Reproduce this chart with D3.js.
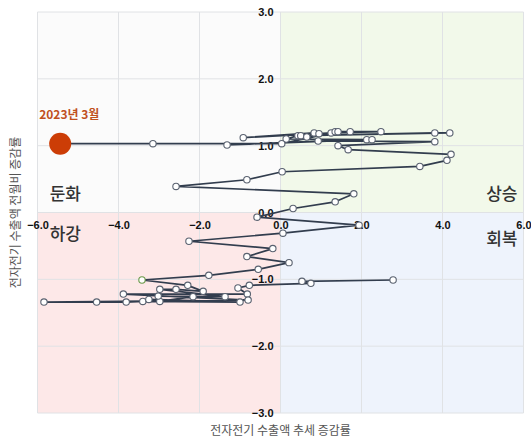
<!DOCTYPE html>
<html><head><meta charset="utf-8">
<script src="https://cdn.jsdelivr.net/npm/d3@7"></script>
<style>body{margin:0;background:#fff}svg{display:block}</style>
</head><body><div id="chart"></div>
<script>
// trend growth rate (x) and month-on-month change (y), oldest -> newest
const trend = [2.78,0.53,0.75,-0.77,-1.05,-0.82,-3.88,-0.80,-5.84,-4.54,-3.81,-3.40,-1.00,-3.25,-2.98,-2.16,-3.02,-1.37,-2.98,-2.58,-1.91,-2.29,-3.42,
  -1.77,-0.55,0.21,-0.83,-0.19,-2.26,0.06,1.94,-0.58,0.31,1.35,1.81,-2.58,-0.83,0.04,3.44,4.11,4.21,
  1.67,1.42,3.81,0.93,-1.32,2.13,2.26,0.14,0.43,3.81,4.18,0.50,0.65,0.83,-0.92,0.95,1.25,2.48,1.72,1.35,1.42,0.03,-3.15,-5.44];
const mom = [-1.01,-1.03,-1.06,-1.09,-1.13,-1.22,-1.22,-1.31,-1.34,-1.34,-1.34,-1.33,-1.34,-1.30,-1.33,-1.26,-1.25,-1.26,-1.15,-1.15,-1.18,-1.09,-1.01,
  -0.94,-0.85,-0.75,-0.66,-0.54,-0.43,-0.31,-0.19,-0.07,0.06,0.16,0.28,0.39,0.49,0.61,0.69,0.78,0.87,
  0.94,1.00,1.06,1.07,1.01,1.09,1.09,1.10,1.15,1.19,1.19,1.15,1.13,1.19,1.12,1.18,1.19,1.21,1.21,1.21,1.21,1.03,1.03,1.03];
const greenIndex = 22;
const lastLabel = "2023년 3월";
const xTicks = [-6,-4,-2,0,2,4,6];
const yTicks = [-3,-2,-1,0,1,2,3];
const quadNames = ["둔화","상승","하강","회복"];
const xTitle = "전자전기 수출액 추세 증감률";
const yTitle = "전자전기 수출액 전월비 증감률";

const W = 531, H = 441;
const svg = d3.select("#chart").append("svg").attr("width", W).attr("height", H);
const x = d3.scaleLinear().domain([-6, 6]).range([37.5, 523.5]);
const y = d3.scaleLinear().domain([-3, 3]).range([413, 12]);

// quadrants
const quads = [
  {x0:-6,x1:0,y0:0,y1:3,c:"#fbfbfb"},
  {x0:0,x1:6,y0:0,y1:3,c:"#f2f9ea"},
  {x0:-6,x1:0,y0:-3,y1:0,c:"#fde8e8"},
  {x0:0,x1:6,y0:-3,y1:0,c:"#eef3fc"}
];
svg.selectAll("rect.q").data(quads).join("rect").attr("class","q")
  .attr("x", d => x(d.x0)).attr("y", d => y(d.y1))
  .attr("width", d => x(d.x1) - x(d.x0)).attr("height", d => y(d.y0) - y(d.y1))
  .attr("fill", d => d.c);

// grid
svg.append("g").selectAll("line").data(xTicks).join("line")
  .attr("x1", d => x(d)).attr("x2", d => x(d)).attr("y1", y(3)).attr("y2", y(-3))
  .attr("stroke", "#e0e2e5").attr("stroke-width", 1);
svg.append("g").selectAll("line").data(yTicks).join("line")
  .attr("x1", x(-6)).attr("x2", x(6)).attr("y1", d => y(d)).attr("y2", d => y(d))
  .attr("stroke", "#e0e2e5").attr("stroke-width", 1);

// quadrant labels
const qpos = [
  {t:quadNames[0], x:-5.7, y:0.3, a:"start"},
  {t:quadNames[1], x:5.85, y:0.3, a:"end"},
  {t:quadNames[2], x:-5.7, y:-0.3, a:"start"},
  {t:quadNames[3], x:5.85, y:-0.38, a:"end"}
];
svg.selectAll("text.q").data(qpos).join("text").attr("class","q")
  .attr("x", d => x(d.x)).attr("y", d => y(d.y)).attr("text-anchor", d => d.a)
  .attr("dominant-baseline","central")
  .attr("font-family", "'Noto Sans CJK KR', sans-serif").attr("font-size", 17)
  .attr("font-weight", 500).attr("fill", "#333").text(d => d.t);

// axes ticks labels
const xAxis = d3.axisBottom(x).tickValues(xTicks).tickSize(0).tickPadding(9).tickFormat(d3.format(".1f"));
const gx = svg.append("g").attr("transform", `translate(0,${y(0)})`).call(xAxis);
gx.select(".domain").remove();
gx.selectAll("text").attr("font-family","'Liberation Sans', Arial, sans-serif").attr("font-weight","bold").attr("font-size",11).attr("fill","#111");

const yAxis = d3.axisLeft(y).tickValues(yTicks).tickSize(0).tickPadding(7).tickFormat(d3.format(".1f"));
const gy = svg.append("g").attr("transform", `translate(${x(0)},0)`).call(yAxis);
gy.select(".domain").remove();
gy.selectAll("text").attr("font-family","'Liberation Sans', Arial, sans-serif").attr("font-weight","bold").attr("font-size",11).attr("fill","#111");

// path
const pts = trend.map((v, i) => [v, mom[i]]);
svg.append("path").datum(pts)
  .attr("d", d3.line().x(d => x(d[0])).y(d => y(d[1])))
  .attr("fill","none").attr("stroke","#323d4e").attr("stroke-width",1.7).attr("stroke-linejoin","round");

svg.selectAll("circle.m").data(pts.slice(0, -1)).join("circle").attr("class","m")
  .attr("cx", d => x(d[0])).attr("cy", d => y(d[1])).attr("r", 3.2)
  .attr("fill","#fff").attr("stroke", (d,i) => i === greenIndex ? "#6a9a4a" : "#5a6270").attr("stroke-width",1.1);

const last = pts[pts.length - 1];
svg.append("circle").attr("cx", x(last[0])).attr("cy", y(last[1])).attr("r", 11)
  .attr("fill","#cc3d06");
svg.append("text").attr("x", x(last[0]) - 21).attr("y", y(last[1]) - 25)
  .attr("font-family","'Noto Sans CJK KR', sans-serif").attr("font-weight","bold").attr("font-size",12)
  .attr("fill","#c0501e").text(lastLabel);

// titles
svg.append("text").attr("x", x(0)).attr("y", 435).attr("text-anchor","middle")
  .attr("font-family","'Noto Sans CJK KR', sans-serif").attr("font-size",12).attr("fill","#555").text(xTitle);
svg.append("text").attr("transform", `translate(20,${y(0)}) rotate(-90)`).attr("text-anchor","middle")
  .attr("font-family","'Noto Sans CJK KR', sans-serif").attr("font-size",12).attr("fill","#555").text(yTitle);
</script></body></html>
